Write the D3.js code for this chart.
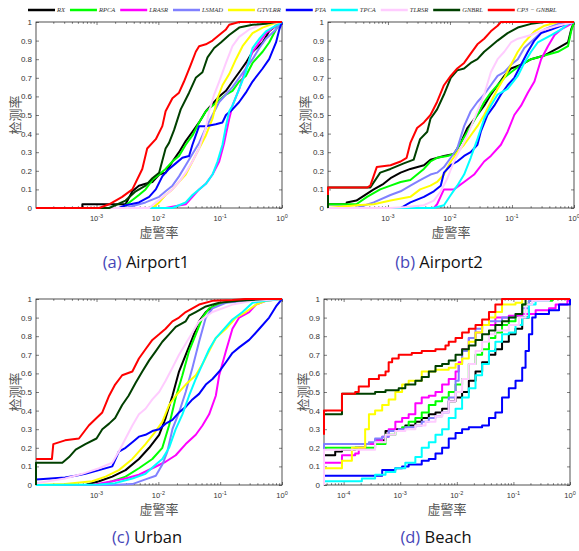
<!DOCTYPE html>
<html>
<head>
<meta charset="utf-8">
<script src="https://cdn.jsdelivr.net/npm/d3@7"></script>
<style>
  body { margin: 0; background: #fff; }
  svg { display: block; }
</style>
</head>
<body>
<svg id="chart" width="579" height="551"></svg>
<script>
// methods in legend / draw order
const methods = ["RX", "RPCA", "LRASR", "LSMAD", "GTVLRR", "PTA", "TPCA", "TLRSR", "GNBRL", "CP3 \u2212 GNBRL"]
const colors = ["#000000", "#00ff00", "#ff00ff", "#8080ff", "#ffff00", "#0000ff", "#00ffff", "#ffccff", "#004000", "#ff0000"]
const yTicks = [0, 0.1, 0.2, 0.3, 0.4, 0.5, 0.6, 0.7, 0.8, 0.9, 1]
const yTickLabels = ["0", "0.1", "0.2", "0.3", "0.4", "0.5", "0.6", "0.7", "0.8", "0.9", "1"]
const xDecades = [1e-4, 1e-3, 1e-2, 1e-1, 1]
const xDecadeExp = ["-4", "-3", "-2", "-1", "0"]

// (a) Airport1  [false alarm rate, detection rate]
const a_RX = [[1.05e-4,0],[5.9e-4,0],[5.9e-4,0.02],[2.95e-3,0.02],[3.8e-3,0.09],[4.85e-3,0.12],[6.2e-3,0.13],[8.0e-3,0.14],[0.0103,0.18],[0.0131,0.19],[0.0169,0.25],[0.0216,0.3],[0.0277,0.36],[0.0356,0.41],[0.0456,0.46],[0.0586,0.52],[0.0752,0.56],[0.0964,0.6],[0.124,0.63],[0.158,0.68],[0.203,0.73],[0.26,0.78],[0.334,0.84],[0.486,0.89],[0.62,0.95],[0.8,0.98],[1,1]]
const a_RPCA = [[1.05e-4,0],[2.6e-3,0],[4.85e-3,0.07],[6.2e-3,0.1],[8.0e-3,0.15],[0.0103,0.18],[0.0131,0.21],[0.0169,0.25],[0.0216,0.28],[0.0277,0.34],[0.0356,0.39],[0.0456,0.46],[0.0586,0.52],[0.0752,0.55],[0.0964,0.58],[0.124,0.61],[0.158,0.63],[0.203,0.68],[0.26,0.71],[0.334,0.78],[0.486,0.84],[0.62,0.89],[0.8,0.96],[1,1]]
const a_LRASR = [[1.05e-4,0],[0.0131,0],[0.0277,0.02],[0.0356,0.06],[0.0456,0.1],[0.0586,0.13],[0.0752,0.18],[0.0964,0.25],[0.116,0.35],[0.14,0.48],[0.158,0.55],[0.203,0.64],[0.26,0.75],[0.334,0.84],[0.43,0.89],[0.55,0.94],[0.8,0.98],[1,1]]
const a_LSMAD = [[1.05e-4,0],[2.95e-3,0],[6.2e-3,0.03],[0.0103,0.06],[0.0131,0.09],[0.0169,0.12],[0.0216,0.17],[0.0277,0.23],[0.0356,0.29],[0.0456,0.35],[0.0586,0.43],[0.0752,0.5],[0.0964,0.57],[0.124,0.61],[0.158,0.65],[0.203,0.7],[0.26,0.75],[0.334,0.8],[0.43,0.86],[0.55,0.91],[0.8,0.96],[1,1]]
const a_GTVLRR = [[1.05e-4,0],[8.0e-3,0],[0.0103,0.03],[0.0131,0.07],[0.0169,0.1],[0.0216,0.14],[0.0277,0.18],[0.0356,0.25],[0.0456,0.32],[0.0586,0.39],[0.0752,0.48],[0.0905,0.59],[0.109,0.66],[0.14,0.72],[0.18,0.8],[0.23,0.87],[0.334,0.94],[0.486,0.97],[0.71,0.99],[1,1]]
const a_PTA = [[1.05e-4,0],[2.3e-3,0],[2.95e-3,0.015],[4.85e-3,0.03],[7.1e-3,0.06],[9.1e-3,0.1],[0.0116,0.17],[0.0149,0.21],[0.0191,0.24],[0.0245,0.27],[0.0314,0.28],[0.0356,0.34],[0.0403,0.39],[0.0456,0.44],[0.0586,0.44],[0.085,0.45],[0.109,0.46],[0.124,0.5],[0.158,0.53],[0.203,0.57],[0.26,0.62],[0.334,0.68],[0.486,0.75],[0.62,0.8],[0.8,0.89],[0.905,0.96],[1,1]]
const a_TPCA = [[1.05e-4,0],[0.0169,0],[0.0216,0.015],[0.0277,0.03],[0.0356,0.07],[0.0456,0.1],[0.0586,0.13],[0.0752,0.18],[0.0905,0.25],[0.109,0.34],[0.124,0.44],[0.14,0.52],[0.158,0.55],[0.203,0.64],[0.26,0.73],[0.334,0.86],[0.43,0.91],[0.55,0.95],[0.8,0.98],[1,1]]
const a_TLRSR = [[1.05e-4,0],[7.1e-3,0],[9.1e-3,0.03],[0.0131,0.07],[0.0169,0.1],[0.0216,0.14],[0.0277,0.19],[0.0356,0.25],[0.0456,0.32],[0.0586,0.43],[0.0663,0.52],[0.08,0.61],[0.0964,0.68],[0.124,0.78],[0.158,0.87],[0.203,0.92],[0.295,0.96],[0.486,0.99],[1,1]]
const a_GNBRL = [[1.05e-4,0],[1.6e-3,0],[2.95e-3,0.04],[4.3e-3,0.09],[6.2e-3,0.12],[8.0e-3,0.16],[0.0103,0.19],[0.0131,0.32],[0.0149,0.35],[0.018,0.42],[0.023,0.53],[0.0314,0.62],[0.0403,0.7],[0.0517,0.73],[0.0624,0.81],[0.08,0.86],[0.1026,0.89],[0.14,0.93],[0.203,0.97],[0.334,0.985],[0.55,0.99],[0.8,1],[1,1]]
const a_CP3 = [[1.05e-4,0],[1.1e-3,0],[1.6e-3,0.02],[2.6e-3,0.06],[3.8e-3,0.1],[5.5e-3,0.21],[6.6e-3,0.32],[9.1e-3,0.37],[0.0116,0.44],[0.0131,0.52],[0.0169,0.59],[0.0216,0.62],[0.026,0.68],[0.0334,0.77],[0.0403,0.84],[0.0456,0.87],[0.0586,0.88],[0.0752,0.9],[0.0964,0.93],[0.124,0.96],[0.14,0.985],[0.203,1],[1,1]]

// (b) Airport2
const b_RX = [[1.08e-4,0],[1.08e-4,0.02],[2.16e-4,0.02],[2.16e-4,0.03],[3.1e-4,0.04],[5.9e-4,0.1],[8.5e-4,0.13],[1.1e-3,0.16],[1.6e-3,0.19],[2.3e-3,0.21],[3.8e-3,0.23],[4.85e-3,0.26],[8.0e-3,0.28],[0.0116,0.29],[0.0149,0.35],[0.0191,0.43],[0.0277,0.5],[0.0356,0.55],[0.0456,0.61],[0.0586,0.66],[0.0752,0.71],[0.0964,0.75],[0.14,0.77],[0.203,0.8],[0.334,0.82],[0.55,0.86],[0.8,0.89],[0.9,0.96],[1,1]]
const b_RPCA = [[1.08e-4,0],[1.08e-4,0.02],[3.1e-4,0.02],[4.6e-4,0.06],[7.5e-4,0.1],[1.1e-3,0.12],[1.6e-3,0.14],[2.3e-3,0.15],[2.95e-3,0.18],[3.8e-3,0.21],[4.85e-3,0.25],[6.2e-3,0.27],[9.1e-3,0.28],[0.0116,0.29],[0.0149,0.35],[0.0216,0.44],[0.0277,0.5],[0.0356,0.57],[0.0456,0.62],[0.0586,0.66],[0.0752,0.7],[0.0964,0.73],[0.14,0.77],[0.203,0.8],[0.334,0.82],[0.55,0.84],[0.8,0.87],[0.9,0.95],[1,1]]
const b_LRASR = [[1.08e-4,0],[5.5e-3,0],[6.2e-3,0.02],[8.0e-3,0.1],[0.0116,0.1],[0.0169,0.14],[0.0245,0.18],[0.0356,0.25],[0.0456,0.28],[0.0663,0.34],[0.085,0.41],[0.109,0.5],[0.14,0.55],[0.18,0.62],[0.23,0.68],[0.295,0.8],[0.38,0.87],[0.486,0.93],[0.62,0.96],[0.8,0.98],[1,1]]
const b_LSMAD = [[1.08e-4,0],[3.1e-4,0],[5.9e-4,0.03],[1.1e-3,0.07],[1.6e-3,0.09],[2.3e-3,0.12],[3.3e-3,0.15],[4.85e-3,0.18],[6.2e-3,0.19],[8.0e-3,0.22],[0.0103,0.27],[0.0131,0.32],[0.0169,0.44],[0.0216,0.52],[0.0277,0.57],[0.0356,0.61],[0.0456,0.66],[0.0586,0.71],[0.0752,0.73],[0.0964,0.77],[0.124,0.8],[0.158,0.86],[0.23,0.91],[0.334,0.96],[0.55,0.99],[1,1]]
const b_GTVLRR = [[1.08e-4,0],[3.1e-4,0.015],[5.9e-4,0.02],[1.1e-3,0.04],[2.3e-3,0.06],[3.3e-3,0.1],[4.85e-3,0.12],[6.2e-3,0.14],[8.0e-3,0.18],[0.0103,0.25],[0.0131,0.3],[0.0169,0.34],[0.0216,0.39],[0.0277,0.44],[0.0356,0.5],[0.0456,0.57],[0.0586,0.64],[0.0752,0.7],[0.0964,0.77],[0.124,0.84],[0.158,0.89],[0.23,0.95],[0.334,0.98],[0.55,1],[1,1]]
const b_PTA = [[1.08e-4,0],[1.6e-3,0],[2.3e-3,0.03],[3.8e-3,0.06],[5.5e-3,0.09],[7.1e-3,0.12],[8.0e-3,0.19],[0.0103,0.23],[0.0131,0.25],[0.0169,0.28],[0.0216,0.3],[0.0277,0.34],[0.0314,0.41],[0.0403,0.5],[0.0517,0.55],[0.0663,0.61],[0.085,0.66],[0.109,0.7],[0.14,0.77],[0.18,0.84],[0.23,0.9],[0.295,0.94],[0.43,0.96],[0.62,0.98],[1,1]]
const b_TPCA = [[1.08e-4,0],[5.5e-3,0],[8.0e-3,0.015],[0.0103,0.07],[0.0131,0.12],[0.0169,0.18],[0.0216,0.27],[0.0277,0.37],[0.0356,0.48],[0.0456,0.55],[0.0586,0.61],[0.085,0.64],[0.124,0.71],[0.158,0.78],[0.203,0.84],[0.26,0.89],[0.43,0.93],[0.62,0.96],[0.8,0.99],[1,1]]
const b_TLRSR = [[1.08e-4,0],[1.1e-3,0],[2.0e-3,0.005],[3.8e-3,0.015],[5.5e-3,0.04],[7.1e-3,0.09],[9.1e-3,0.16],[0.0116,0.25],[0.0149,0.32],[0.0191,0.39],[0.0277,0.52],[0.0356,0.61],[0.0456,0.73],[0.0586,0.8],[0.0752,0.84],[0.0964,0.89],[0.124,0.91],[0.203,0.93],[0.334,0.96],[0.55,0.98],[1,1]]
const b_GNBRL = [[1.08e-4,0],[1.08e-4,0.11],[5.2e-4,0.11],[7.5e-4,0.19],[1.1e-3,0.21],[1.8e-3,0.24],[2.6e-3,0.26],[2.95e-3,0.32],[3.3e-3,0.37],[4.3e-3,0.41],[4.85e-3,0.48],[6.2e-3,0.53],[8.0e-3,0.61],[0.0103,0.7],[0.0131,0.74],[0.0169,0.75],[0.0216,0.78],[0.0277,0.8],[0.0356,0.84],[0.0456,0.87],[0.0586,0.9],[0.085,0.94],[0.124,0.97],[0.203,0.99],[0.334,1],[1,1]]
const b_CP3 = [[1.08e-4,0.07],[1.08e-4,0.11],[4.6e-4,0.11],[5.2e-4,0.12],[6.6e-4,0.22],[1.1e-3,0.23],[1.6e-3,0.25],[2.0e-3,0.27],[2.3e-3,0.35],[2.95e-3,0.43],[3.8e-3,0.46],[4.85e-3,0.5],[6.2e-3,0.57],[8.0e-3,0.66],[0.0103,0.71],[0.0131,0.75],[0.0169,0.78],[0.0216,0.83],[0.0277,0.88],[0.0356,0.91],[0.0456,0.95],[0.0586,0.98],[0.0663,1],[1,1]]

// (c) Urban
const c_RX = [[1.05e-4,0],[6.6e-4,0],[1.1e-3,0.02],[1.8e-3,0.045],[2.95e-3,0.08],[4.85e-3,0.14],[7.1e-3,0.2],[0.0103,0.27],[0.0131,0.36],[0.0169,0.48],[0.0216,0.61],[0.0277,0.7],[0.0356,0.79],[0.0456,0.88],[0.0586,0.93],[0.085,0.97],[0.158,0.99],[0.334,1],[1,1]]
const c_RPCA = [[1.05e-4,0],[1.1e-3,0],[1.8e-3,0.02],[2.95e-3,0.045],[4.85e-3,0.09],[8.0e-3,0.14],[0.0116,0.2],[0.0149,0.32],[0.0191,0.47],[0.0245,0.59],[0.0314,0.72],[0.0403,0.81],[0.0517,0.9],[0.0663,0.95],[0.109,0.98],[0.203,0.99],[0.55,1],[1,1]]
const c_LRASR = [[1.05e-4,0],[8.5e-4,0],[1.8e-3,0.02],[2.95e-3,0.035],[4.85e-3,0.055],[8.0e-3,0.09],[0.0131,0.125],[0.0191,0.16],[0.0277,0.22],[0.0403,0.27],[0.0517,0.32],[0.0663,0.38],[0.085,0.48],[0.0964,0.59],[0.124,0.72],[0.158,0.84],[0.203,0.9],[0.295,0.93],[0.38,0.97],[0.55,0.99],[1,1]]
const c_LSMAD = [[1.05e-4,0],[1.8e-3,0],[3.8e-3,0.005],[6.2e-3,0.03],[9.1e-3,0.05],[0.0116,0.11],[0.014,0.18],[0.0169,0.3],[0.0216,0.39],[0.0277,0.5],[0.0356,0.63],[0.0456,0.77],[0.0586,0.9],[0.0752,0.95],[0.124,0.98],[0.26,0.99],[0.55,1],[1,1]]
const c_GTVLRR = [[1.05e-4,0],[3.1e-4,0.005],[8.5e-4,0.02],[1.4e-3,0.045],[2.3e-3,0.08],[3.8e-3,0.14],[6.2e-3,0.22],[9.1e-3,0.29],[0.0116,0.34],[0.0149,0.43],[0.0191,0.48],[0.0277,0.54],[0.0403,0.59],[0.0517,0.65],[0.0663,0.72],[0.085,0.79],[0.124,0.84],[0.18,0.9],[0.26,0.93],[0.38,0.97],[0.55,0.99],[1,1]]
const c_PTA = [[1.05e-4,0],[1.05e-4,0.03],[3.1e-4,0.04],[4.6e-4,0.05],[6.6e-4,0.06],[1.1e-3,0.08],[1.8e-3,0.1],[2.3e-3,0.18],[2.95e-3,0.2],[3.8e-3,0.23],[4.85e-3,0.26],[6.2e-3,0.27],[8.0e-3,0.29],[0.0103,0.3],[0.0131,0.33],[0.0169,0.35],[0.0216,0.39],[0.0277,0.42],[0.0356,0.46],[0.0456,0.49],[0.0586,0.54],[0.0752,0.57],[0.0964,0.61],[0.124,0.66],[0.158,0.71],[0.203,0.74],[0.295,0.78],[0.43,0.84],[0.62,0.9],[0.8,0.96],[1,1]]
const c_TPCA = [[1.05e-4,0],[1.1e-3,0.003],[2.0e-3,0.01],[3.8e-3,0.035],[6.2e-3,0.06],[9.1e-3,0.11],[0.0116,0.14],[0.0149,0.2],[0.0191,0.3],[0.0245,0.38],[0.0314,0.48],[0.0403,0.57],[0.0517,0.65],[0.0663,0.73],[0.085,0.79],[0.109,0.83],[0.158,0.89],[0.23,0.93],[0.334,0.98],[0.55,0.99],[1,1]]
const c_TLRSR = [[1.05e-4,0],[1.05e-4,0.01],[3.1e-4,0.035],[5.9e-4,0.06],[1.1e-3,0.09],[1.8e-3,0.12],[2.3e-3,0.18],[2.95e-3,0.25],[3.8e-3,0.32],[4.85e-3,0.38],[6.2e-3,0.41],[8.0e-3,0.46],[0.0103,0.5],[0.0131,0.56],[0.0169,0.63],[0.0216,0.7],[0.0277,0.76],[0.0356,0.82],[0.0456,0.88],[0.0752,0.93],[0.158,0.97],[0.334,0.99],[1,1]]
const c_GNBRL = [[1.05e-4,0],[1.05e-4,0.12],[2.8e-4,0.12],[3.6e-4,0.15],[4.6e-4,0.19],[6.6e-4,0.22],[1.0e-3,0.25],[1.24e-3,0.3],[1.6e-3,0.33],[2.0e-3,0.36],[2.6e-3,0.43],[3.3e-3,0.48],[4.3e-3,0.55],[5.5e-3,0.61],[7.1e-3,0.67],[9.1e-3,0.72],[0.0116,0.77],[0.0149,0.81],[0.0191,0.85],[0.0277,0.88],[0.0314,0.91],[0.0403,0.93],[0.0586,0.96],[0.0964,0.98],[0.203,0.99],[0.55,1],[1,1]]
const c_CP3 = [[1.05e-4,0.14],[1.9e-4,0.14],[2.0e-4,0.22],[3.1e-4,0.24],[5.2e-4,0.25],[7.5e-4,0.32],[1.0e-3,0.36],[1.24e-3,0.39],[1.6e-3,0.48],[2.0e-3,0.54],[2.6e-3,0.59],[3.8e-3,0.61],[4.85e-3,0.68],[6.2e-3,0.73],[8.0e-3,0.78],[0.0103,0.81],[0.0131,0.84],[0.0169,0.88],[0.0216,0.9],[0.0277,0.93],[0.0356,0.95],[0.0456,0.97],[0.0752,0.99],[0.158,0.995],[0.26,1],[1,1]]

// (d) Beach
const d_RX = [[4.5e-5,0],[4.5e-5,0.16],[6.2e-5,0.16],[7.1e-5,0.18],[9.35e-5,0.19],[1.6e-4,0.2],[2.4e-4,0.22],[3.6e-4,0.24],[5.5e-4,0.29],[8.2e-4,0.3],[1.23e-3,0.32],[1.85e-3,0.34],[2.4e-3,0.36],[3.2e-3,0.38],[4.2e-3,0.39],[5.5e-3,0.41],[7.2e-3,0.45],[9.5e-3,0.47],[0.0124,0.5],[0.0163,0.56],[0.0214,0.61],[0.028,0.66],[0.037,0.7],[0.048,0.73],[0.063,0.77],[0.083,0.81],[0.109,0.84],[0.143,0.9],[0.188,0.99],[0.324,1],[1,1]]
const d_RPCA = [[4.5e-5,0],[4.5e-5,0.2],[3.2e-4,0.2],[3.6e-4,0.22],[5.5e-4,0.27],[8.2e-4,0.29],[1.08e-3,0.31],[1.41e-3,0.34],[1.85e-3,0.36],[2.4e-3,0.39],[3.2e-3,0.43],[4.2e-3,0.45],[5.5e-3,0.47],[7.2e-3,0.5],[9.5e-3,0.54],[0.0124,0.57],[0.0163,0.65],[0.0214,0.7],[0.028,0.73],[0.037,0.79],[0.048,0.82],[0.063,0.86],[0.083,0.88],[0.109,0.91],[0.143,0.97],[0.188,0.99],[0.487,1],[1,1]]
const d_LRASR = [[4.5e-5,0],[4.5e-5,0.12],[9.35e-5,0.12],[9.35e-5,0.16],[1.6e-4,0.17],[1.85e-4,0.2],[2.4e-4,0.22],[3.6e-4,0.24],[4.8e-4,0.26],[6.25e-4,0.3],[8.2e-4,0.34],[1.08e-3,0.36],[1.41e-3,0.38],[1.85e-3,0.44],[2.4e-3,0.47],[3.2e-3,0.48],[4.2e-3,0.5],[5.5e-3,0.54],[7.2e-3,0.57],[9.5e-3,0.61],[0.0108,0.66],[0.0124,0.73],[0.0163,0.79],[0.0214,0.82],[0.028,0.86],[0.048,0.9],[0.083,0.91],[0.143,0.92],[0.247,0.94],[0.425,0.95],[0.557,0.97],[0.9,0.99],[1,1]]
const d_LSMAD = [[4.5e-5,0],[4.5e-5,0.22],[2.8e-4,0.22],[2.8e-4,0.23],[3.6e-4,0.25],[4.8e-4,0.26],[6.25e-4,0.29],[9.4e-4,0.3],[1.23e-3,0.31],[1.85e-3,0.32],[2.4e-3,0.34],[3.2e-3,0.36],[4.2e-3,0.37],[5.5e-3,0.39],[7.2e-3,0.47],[9.5e-3,0.56],[0.0108,0.65],[0.0124,0.72],[0.0163,0.79],[0.0214,0.84],[0.028,0.86],[0.037,0.88],[0.063,0.9],[0.109,0.92],[0.143,0.95],[0.188,0.99],[0.324,1],[1,1]]
const d_GTVLRR = [[4.5e-5,0],[4.5e-5,0.09],[9.35e-5,0.09],[9.35e-5,0.13],[1.4e-4,0.13],[1.4e-4,0.2],[2.4e-4,0.3],[2.8e-4,0.38],[3.6e-4,0.4],[4.8e-4,0.43],[6.25e-4,0.46],[8.2e-4,0.5],[1.08e-3,0.54],[1.41e-3,0.56],[2.4e-3,0.61],[4.2e-3,0.62],[7.2e-3,0.63],[9.5e-3,0.65],[0.0124,0.68],[0.0163,0.77],[0.0214,0.82],[0.028,0.86],[0.037,0.9],[0.048,0.93],[0.063,0.97],[0.109,0.98],[0.143,1],[1,1]]
const d_PTA = [[4.5e-5,0],[4.5e-5,0.05],[2.4e-4,0.05],[4.8e-4,0.08],[8.2e-4,0.09],[1.08e-3,0.1],[1.41e-3,0.11],[2.4e-3,0.13],[3.2e-3,0.14],[4.2e-3,0.17],[5.5e-3,0.2],[7.2e-3,0.25],[9.5e-3,0.28],[0.0124,0.3],[0.0163,0.31],[0.028,0.32],[0.037,0.36],[0.048,0.39],[0.063,0.47],[0.083,0.52],[0.109,0.56],[0.143,0.63],[0.164,0.72],[0.188,0.81],[0.215,0.9],[0.247,0.92],[0.425,0.94],[0.64,0.97],[1,1]]
const d_TPCA = [[4.5e-5,0],[4.5e-5,0.02],[1.6e-4,0.02],[2.1e-4,0.035],[3.6e-4,0.055],[5.5e-4,0.07],[8.2e-4,0.09],[1.23e-3,0.12],[1.85e-3,0.15],[2.4e-3,0.2],[3.2e-3,0.23],[4.2e-3,0.27],[5.5e-3,0.3],[7.2e-3,0.36],[9.5e-3,0.41],[0.0124,0.47],[0.0163,0.52],[0.0214,0.59],[0.028,0.65],[0.037,0.72],[0.048,0.77],[0.063,0.81],[0.083,0.82],[0.109,0.86],[0.143,0.9],[0.188,0.97],[0.247,0.99],[0.425,1],[1,1]]
const d_TLRSR = [[4.5e-5,0],[4.5e-5,0.19],[2.8e-4,0.19],[3.6e-4,0.23],[5.5e-4,0.27],[8.2e-4,0.29],[1.23e-3,0.3],[1.85e-3,0.32],[2.8e-3,0.34],[4.2e-3,0.37],[5.5e-3,0.39],[7.2e-3,0.45],[9.5e-3,0.5],[0.0124,0.57],[0.0163,0.65],[0.0214,0.72],[0.028,0.77],[0.037,0.81],[0.048,0.83],[0.083,0.86],[0.125,0.9],[0.164,0.97],[0.215,0.99],[0.425,1],[1,1]]
const d_GNBRL = [[4.5e-5,0.38],[9.35e-5,0.38],[9.35e-5,0.49],[3.6e-4,0.5],[5.5e-4,0.51],[9.4e-4,0.52],[1.23e-3,0.54],[1.85e-3,0.56],[2.4e-3,0.58],[3.2e-3,0.61],[4.2e-3,0.64],[5.5e-3,0.65],[7.2e-3,0.67],[9.5e-3,0.7],[0.0124,0.73],[0.0163,0.75],[0.0214,0.78],[0.028,0.81],[0.037,0.83],[0.048,0.86],[0.063,0.88],[0.083,0.9],[0.109,0.92],[0.143,0.97],[0.164,1],[1,1]]
const d_CP3 = [[4.5e-5,0.27],[4.5e-5,0.4],[9.35e-5,0.4],[9.35e-5,0.49],[1.6e-4,0.5],[1.85e-4,0.53],[2.8e-4,0.57],[4.2e-4,0.59],[5.5e-4,0.61],[6.25e-4,0.66],[7.2e-4,0.68],[9.4e-4,0.7],[1.6e-3,0.71],[2.4e-3,0.72],[4.2e-3,0.73],[6.3e-3,0.75],[7.2e-3,0.77],[9.5e-3,0.79],[0.0124,0.82],[0.0163,0.84],[0.0214,0.86],[0.028,0.89],[0.037,0.93],[0.048,0.97],[0.063,1],[1,1]]

const panels = [
  { tag: "(a)", name: "Airport1", xMin: 1.05e-4, left: 36, top: 22, step: false, ylabX: 14, capX: 146, capY: 268,
    curves: [a_RX, a_RPCA, a_LRASR, a_LSMAD, a_GTVLRR, a_PTA, a_TPCA, a_TLRSR, a_GNBRL, a_CP3] },
  { tag: "(b)", name: "Airport2", xMin: 1.08e-4, left: 328, top: 22, step: false, ylabX: 304, capX: 439, capY: 268,
    curves: [b_RX, b_RPCA, b_LRASR, b_LSMAD, b_GTVLRR, b_PTA, b_TPCA, b_TLRSR, b_GNBRL, b_CP3] },
  { tag: "(c)", name: "Urban", xMin: 1.05e-4, left: 36, top: 299, step: false, ylabX: 14, capX: 147, capY: 543,
    curves: [c_RX, c_RPCA, c_LRASR, c_LSMAD, c_GTVLRR, c_PTA, c_TPCA, c_TLRSR, c_GNBRL, c_CP3] },
  { tag: "(d)", name: "Beach", xMin: 4.5e-5, left: 324, top: 299, step: true, ylabX: 302, capX: 436, capY: 543,
    curves: [d_RX, d_RPCA, d_LRASR, d_LSMAD, d_GTVLRR, d_PTA, d_TPCA, d_TLRSR, d_GNBRL, d_CP3] }
]

const W = 246, H = 186
const axisColor = "#262626"
const svg = d3.select("#chart")

panels.forEach(p => {
  const x = d3.scaleLog().domain([p.xMin, 1]).range([0, W])
  const y = d3.scaleLinear().domain([0, 1]).range([H, 0])
  const g = svg.append("g").attr("transform", `translate(${p.left},${p.top})`)

  const decades = xDecades.filter(v => v >= p.xMin)
  const minors = x.ticks().filter(v => v >= p.xMin && !xDecades.includes(v))

  // ticks point inward, MATLAB style
  const addAxis = (axis, tx, ty) => {
    const a = g.append("g").attr("transform", `translate(${tx},${ty})`).call(axis)
    a.select(".domain").remove()
    a.selectAll("line").attr("stroke", axisColor).attr("stroke-width", 0.6)
    return a
  }
  addAxis(d3.axisBottom(x).tickValues(decades).tickSize(-3).tickFormat(""), 0, H)
  addAxis(d3.axisBottom(x).tickValues(minors).tickSize(-1.8).tickFormat(""), 0, H)
  addAxis(d3.axisTop(x).tickValues(decades).tickSize(-3).tickFormat(""), 0, 0)
  addAxis(d3.axisTop(x).tickValues(minors).tickSize(-1.8).tickFormat(""), 0, 0)
  addAxis(d3.axisRight(y).tickValues(yTicks).tickSize(-3).tickFormat(""), W, 0)
  const yAx = addAxis(d3.axisLeft(y).tickValues(yTicks).tickSize(-3).tickPadding(4)
    .tickFormat((d, i) => yTickLabels[i]), 0, 0)
  yAx.selectAll("text").attr("fill", "#333").style("font", "8px 'Liberation Sans', Arial, sans-serif")

  g.append("rect").attr("width", W).attr("height", H)
    .attr("fill", "none").attr("stroke", axisColor).attr("stroke-width", 0.8)

  // x tick labels 10^k
  const xl = g.append("g").selectAll("text").data(decades).join("text")
    .attr("x", d => x(d)).attr("y", H + 13)
    .attr("text-anchor", "middle").attr("fill", "#333")
    .style("font", "7.5px 'Liberation Sans', Arial, sans-serif")
  xl.append("tspan").text("10")
  xl.append("tspan").attr("dy", -3.5).style("font-size", "5.5px")
    .text(d => xDecadeExp[xDecades.indexOf(d)])

  // curves
  const line = d3.line()
    .x(d => x(d[0])).y(d => y(d[1]))
    .curve(p.step ? d3.curveStepAfter : d3.curveLinear)
  g.append("g").selectAll("path").data(p.curves).join("path")
    .attr("fill", "none")
    .attr("stroke", (d, i) => colors[i])
    .attr("stroke-width", 2)
    .attr("stroke-linejoin", "round")
    .attr("d", line)

  // axis titles
  g.append("text").attr("x", W / 2).attr("y", H + 29)
    .attr("text-anchor", "middle").attr("fill", "#555")
    .style("font", "13px 'Noto Sans CJK SC', sans-serif").text("虚警率")
  svg.append("text")
    .attr("transform", `translate(${p.ylabX},${p.top + H / 2}) rotate(-90)`)
    .attr("text-anchor", "middle").attr("dominant-baseline", "central").attr("fill", "#555")
    .style("font", "13px 'Noto Sans CJK SC', sans-serif").text("检测率")

  // caption
  const cap = svg.append("text").attr("x", p.capX).attr("y", p.capY)
    .attr("text-anchor", "middle")
    .style("font", "16.5px 'Open Sans', sans-serif")
  cap.append("tspan").attr("fill", "#4646b8").text(p.tag)
  cap.append("tspan").attr("fill", "#111").text(" " + p.name)
})

// legend across the top, laid out by measured text width
const legend = svg.append("g").attr("transform", "translate(0,10)")
let lx = 28
methods.forEach((m, i) => {
  legend.append("line").attr("x1", lx).attr("x2", lx + 27).attr("y1", 0).attr("y2", 0)
    .attr("stroke", colors[i]).attr("stroke-width", 2.5)
  const t = legend.append("text").attr("x", lx + 29).attr("y", 2.3)
    .attr("fill", "#333")
    .style("font", "italic 6.5px 'Liberation Serif', 'Times New Roman', serif")
    .text(m)
  lx += 29 + t.node().getComputedTextLength() + 5
})
</script>
</body>
</html>
